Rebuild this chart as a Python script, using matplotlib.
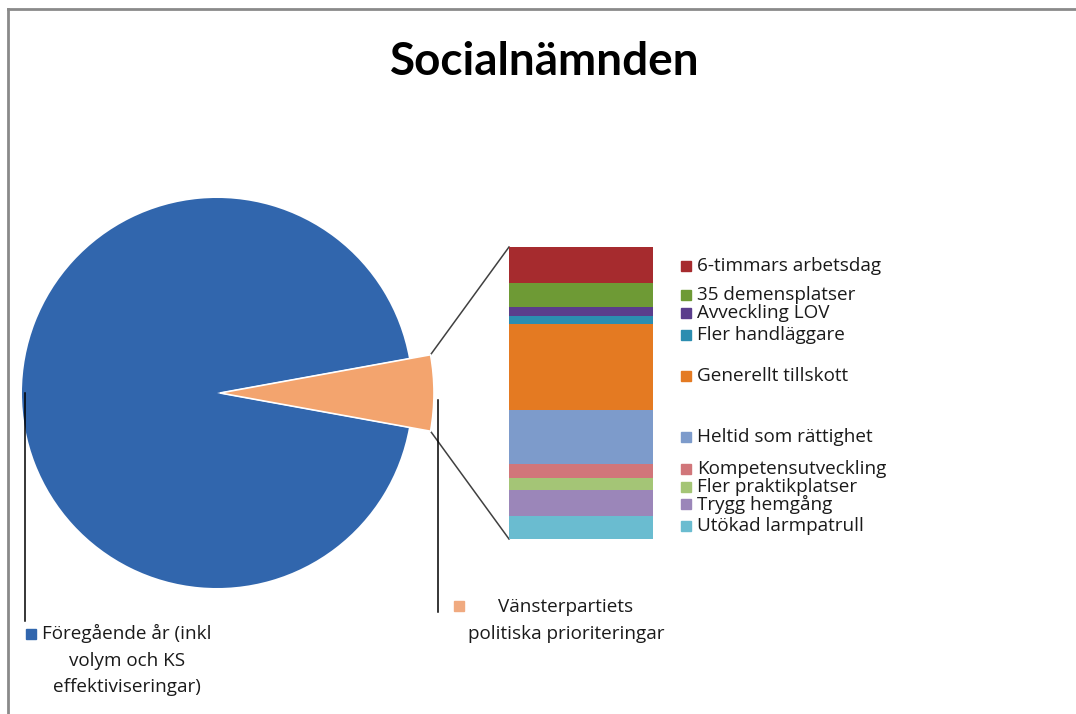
import matplotlib
matplotlib.use("Agg")
import matplotlib.pyplot as plt
import numpy as np

plt.rcParams['font.family'] = ['Open Sans', 'DejaVu Sans']

# ---------------- data ----------------
title = "Socialnämnden"
pie_labels = ["Vänsterpartiets\npolitiska prioriteringar",
              "Föregående år (inkl\nvolym och KS\neffektiviseringar)"]
previous_year = 1607.0

bar_labels = ["6-timmars arbetsdag", "35 demensplatser", "Avveckling LOV",
              "Fler handläggare", "Generellt tillskott", "Heltid som rättighet",
              "Kompetensutveckling", "Fler praktikplatser", "Trygg hemgång",
              "Utökad larmpatrull"]
bar_values = [12.0, 8.0, 3.0, 2.7, 28.7, 18.0, 4.7, 4.0, 8.7, 7.7]

bar_colors = ["#A62B2E", "#6E9A35", "#5A3D8C", "#2B8DB0", "#E47A22",
              "#7D9BCB", "#D1767A", "#A4C576", "#9B86B9", "#6ABCD0"]
blue = "#3166AD"
orange = "#F3A46E"

# ---------------- layout ----------------
W, H = 1076, 714
fig = plt.figure(figsize=(W / 100, H / 100), dpi=100)
ax = fig.add_axes([0, 0, 1, 1])

pie_cx, pie_cy, pie_r = 217, 393, 195
vp_total = sum(bar_values)
vals = [vp_total, previous_year]
frac = vp_total / sum(vals)
theta = frac * 360.0

wedges, _ = ax.pie(vals, colors=[orange, blue], startangle=-theta / 2,
                   center=(pie_cx, pie_cy), radius=pie_r, counterclock=True,
                   wedgeprops=dict(linewidth=0))
# the small slice is pulled out and drawn slightly larger
o_cx, o_r = 220, 214
wedges[0].set_center((o_cx, pie_cy))
wedges[0].set_radius(o_r)
wedges[0].set_edgecolor("#FFFFFF")
wedges[0].set_linewidth(1.2)
wedges[0].set_zorder(3)

# stacked bar
bar_left, bar_top, bar_w, bar_px = 509, 247, 144, 292
scale = bar_px / vp_total
heights = [v * scale for v in bar_values]
bottoms = bar_top + np.concatenate([[0], np.cumsum(heights)[:-1]])
ax.bar([bar_left + bar_w / 2] * len(heights), heights, bottom=bottoms,
       width=bar_w, color=bar_colors, linewidth=0, zorder=3)

# connector lines
a = np.radians(theta / 2)
top_pt = (o_cx + o_r * np.cos(a), pie_cy - o_r * np.sin(a))
bot_pt = (o_cx + o_r * np.cos(a), pie_cy + o_r * np.sin(a))
ax.plot([top_pt[0], bar_left], [top_pt[1], bar_top], color="#404040", lw=1.1, zorder=2)
ax.plot([bot_pt[0], bar_left], [bot_pt[1], bar_top + bar_px], color="#404040", lw=1.1, zorder=2)

# bar labels
label_y = [266, 295, 313, 335, 376, 437, 469, 487, 504, 526]
for lab, col, y in zip(bar_labels, bar_colors, label_y):
    ax.plot([686], [y], marker="s", markersize=6.5, color=col, zorder=4)
    ax.text(697, y, lab, fontsize=13.6, va="center", ha="left", color="#1a1a1a")

# pie leader lines and labels
ax.plot([pie_cx - pie_r + 3, pie_cx - pie_r + 3], [pie_cy, 621], color="black", lw=1.1)
ax.plot([31], [634], marker="s", markersize=6.5, color=blue)
ax.text(127, 624, pie_labels[1], fontsize=13.6, ha="center", va="top",
        linespacing=1.62, color="#1a1a1a")

ax.plot([438, 438], [400, 612], color="black", lw=1.1, zorder=4)
ax.plot([459], [606], marker="s", markersize=6.5, color="#F0AA80")
ax.text(566, 598, pie_labels[0], fontsize=13.6, ha="center", va="top",
        linespacing=1.62, color="#1a1a1a")

# title
ax.text(545, 62, title, fontsize=33, fontweight="bold", ha="center", va="center",
        color="black", family=["Lato", "DejaVu Sans"])

# frame border
ax.plot([8, W], [9, 9], color="#8a8a8a", lw=2, clip_on=False)
ax.plot([8, 8], [9, H], color="#8a8a8a", lw=2, clip_on=False)

ax.set_xlim(0, W)
ax.set_ylim(H, 0)
ax.set_aspect("auto")
ax.axis("off")

fig.savefig("out.png", dpi=100, facecolor="white")
